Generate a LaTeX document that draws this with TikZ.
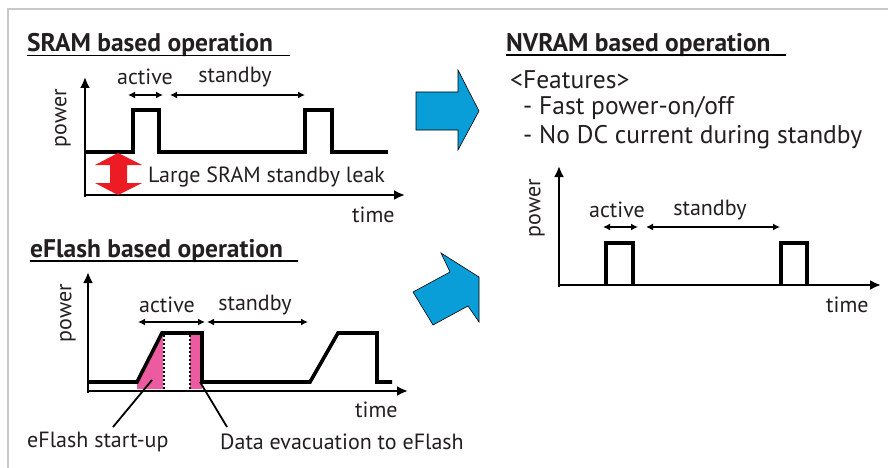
\documentclass[tikz,border=0pt]{standalone}
\usepackage{fontspec}
\setmainfont{PT Sans}
\usetikzlibrary{arrows.meta}
\definecolor{ink}{HTML}{231F20}
\definecolor{framegray}{HTML}{C8C8C8}
\definecolor{leakred}{HTML}{ED1C24}
\definecolor{flashpink}{HTML}{EC5AA0}
\definecolor{flowblue}{HTML}{0A9ED9}
\tikzset{
  sig/.style={line width=3.6pt, draw=black, line join=miter, line cap=butt},
  axisline/.style={line width=2.8pt, draw=black, -{Latex[length=11pt,width=10pt]}},
  span/.style={line width=1.8pt, draw=black, {Latex[length=7pt,width=7pt]}-{Latex[length=7pt,width=7pt]}},
  lbl/.style={font=\fontsize{22}{26}\selectfont, text=ink, inner sep=0pt},
  big/.style={font=\fontsize{25.5}{30}\selectfont, text=ink, inner sep=0pt, anchor=west},
  ttl/.style={font=\bfseries\fontsize{25.5}{30}\selectfont, text=ink, inner sep=0pt, anchor=base west},
  uline/.style={line width=1.8pt, draw=black},
  flow/.style={fill=flowblue, draw=black, line width=0.6pt, line join=miter},
}
\begin{document}
\begin{tikzpicture}[x=1pt,y=-1pt]
\useasboundingbox (0,0) rectangle (888,468);
% outer frame (top and left edges)
\draw[framegray, line width=2pt] (888,9) -- (8,9) -- (8,468);

% ---------------- SRAM based operation ----------------
\node[ttl] (tSram) at (27,52) {SRAM based operation};
\draw[uline] (27,55.5) -- (290,55.5);
\draw[axisline] (85,197) -- (85,77);
\draw[axisline] (83.6,195) -- (405,195);
\draw[sig] (85,152) -- (133,152) -- (133,110) -- (159,110) -- (159,152)
  -- (305,152) -- (305,110) -- (332,110) -- (332,152) -- (388,152);
\node[lbl] (sActL) at (145,77) {active};
\node[lbl] (sStbL) at (235,77) {standby};
\draw[span] (128,95) -- (163,95);
\draw[span] (170,95) -- (305,95);
\node[lbl, rotate=90] (sPow) at (63,118) {power};
\fill[leakred] (118,153) -- (142,165) -- (127,165) -- (127,183) -- (142,183)
  -- (118,195) -- (95,183) -- (110,183) -- (110,165) -- (95,165) -- cycle;
\node[lbl, anchor=west] (sLeak) at (148,177) {Large SRAM standby leak};
\node[lbl, anchor=west] (sTime) at (352,215) {time};

% ---------------- eFlash based operation ----------------
\node[ttl] (tFlash) at (30,257) {eFlash based operation};
\draw[uline] (30,261) -- (298,261);
\fill[flashpink] (137,382) -- (162,333) -- (163,333) -- (163,389) -- (137,389) -- cycle;
\fill[flashpink] (190,333) -- (202,333) -- (202,389) -- (190,389) -- cycle;
\draw[black, line width=2pt, dotted] (163.5,335) -- (163.5,389);
\draw[black, line width=2pt, dotted] (190,335) -- (190,389);
\draw[axisline] (88,393) -- (88,272);
\draw[axisline] (86.6,391) -- (408,391);
\draw[sig] (88,382) -- (137,382) -- (162,333) -- (202,333) -- (202,382)
  -- (310,382) -- (338,333) -- (377,333) -- (377,382) -- (392,382);
\node[lbl] (fActL) at (167,305) {active};
\node[lbl] (fStbL) at (255,305) {standby};
\draw[span] (138,322) -- (205,322);
\draw[span] (207,322) -- (308,322);
\node[lbl, rotate=90] (fPow) at (68,313) {power};
\node[lbl, anchor=west] (fTime) at (355,410) {time};
\node[lbl, anchor=west] (fStart) at (27,442) {eFlash start-up};
\node[lbl, anchor=west] (fEvac) at (220,442) {Data evacuation to eFlash};
\coordinate (pinkA) at (152,380);
\coordinate (pinkB) at (200,382);
\draw[line width=1.8pt] (pinkA) -- (113,427);
\draw[line width=1.8pt] (pinkB) -- (227,427);

% ---------------- transition arrows ----------------
\draw[flow] (416,92) -- (458,92) -- (458,70) -- (479,111) -- (458,150) -- (458,130) -- (416,130) -- cycle;
\draw[flow] (441,253) -- (479,277) -- (479,322) -- (468,306) -- (433,325) -- (413,292) -- (450,272) -- cycle;

% ---------------- NVRAM based operation ----------------
\node[ttl] (tNv) at (506,52) {NVRAM based operation};
\draw[uline] (506,55) -- (786,55);
\node[big] (nFeat) at (510,80) {<Features>};
\node[big] (nFast) at (523,108) {- Fast power-on/off};
\node[big] (nNoDC) at (523,137) {- No DC current during standby};
\draw[axisline] (559,287) -- (559,166);
\draw[axisline] (557.6,285) -- (881,285);
\draw[sig] (606,285) -- (606,243) -- (633,243) -- (633,285);
\draw[sig] (781,285) -- (781,243) -- (807,243) -- (807,285);
\node[lbl] (nActL) at (617,210) {active};
\node[lbl] (nStbL) at (710,210) {standby};
\draw[span] (603,227) -- (638,227);
\draw[span] (646,227) -- (780,227);
\node[lbl, rotate=90] (nPow) at (537,208) {power};
\node[lbl, anchor=west] (nTime) at (826,305) {time};
\end{tikzpicture}
\end{document}
